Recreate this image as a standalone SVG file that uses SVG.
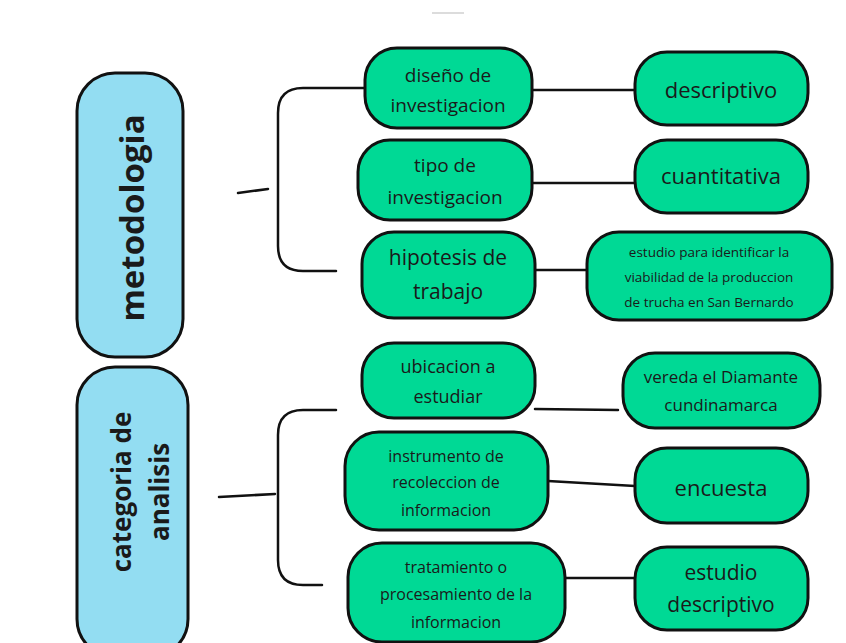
<svg xmlns="http://www.w3.org/2000/svg" width="846" height="643" viewBox="0 0 846 643">
<style>
.g{fill:#00D995;stroke:#111;stroke-width:3}
.b{fill:#93DDF2;stroke:#111;stroke-width:3}
text{font-family:"Open Sans","Noto Sans","Liberation Sans",sans-serif;fill:#1a1a1a;text-anchor:middle}
.h{font-weight:bold;font-size:33px}
.c{fill:none;stroke:#111;stroke-width:2.5;stroke-linecap:round}
</style>
<rect width="846" height="643" fill="#fff"/>
<line x1="432" y1="13" x2="464" y2="13" stroke="#bbb" stroke-width="2" opacity="0.5"/>
<g id="connectors">
<line class="c" x1="238" y1="193" x2="268" y2="189"/>
<path class="c" d="M365,88 H303 Q278,88 278,113 V246 Q278,271 303,271 H336"/>
<line class="c" x1="219" y1="497" x2="275" y2="494"/>
<path class="c" d="M336,410 H303 Q278,410 278,435 V560 Q278,585 303,585 H322"/>
<line class="c" x1="532" y1="90" x2="635" y2="90"/>
<line class="c" x1="520" y1="183" x2="635" y2="183"/>
<line class="c" x1="535" y1="270" x2="587" y2="270"/>
<line class="c" x1="535" y1="409" x2="618" y2="410"/>
<line class="c" x1="548" y1="481" x2="635" y2="486"/>
<line class="c" x1="565" y1="578" x2="635" y2="578"/>
</g>
<g id="metodologia">
<rect class="b" x="77" y="73" width="106" height="284" rx="38"/>
<text class="h" transform="translate(132,218) rotate(-90)" y="12">metodologia</text>
</g>
<g id="categoria">
<rect class="b" x="77" y="367" width="111" height="290" rx="38"/>
<text class="h" style="font-size:26px" transform="translate(141,492) rotate(-90)"><tspan x="0" y="-10">categoria de</tspan><tspan x="0" y="28">analisis</tspan></text>
</g>
<g id="diseno">
<rect class="g" x="365" y="48" width="167" height="80" rx="32"/>
<text style="font-size:19px"><tspan x="448" y="82">diseño de</tspan><tspan x="448" y="112">investigacion</tspan></text>
</g>
<g id="descriptivo">
<rect class="g" x="635" y="52" width="173" height="73" rx="32"/>
<text style="font-size:22px" x="721" y="98">descriptivo</text>
</g>
<g id="tipo">
<rect class="g" x="358" y="140" width="174" height="80" rx="32"/>
<text style="font-size:19px"><tspan x="445" y="172">tipo de</tspan><tspan x="445" y="204">investigacion</tspan></text>
</g>
<g id="cuantitativa">
<rect class="g" x="635" y="140" width="173" height="73" rx="32"/>
<text style="font-size:22px" x="721" y="184">cuantitativa</text>
</g>
<g id="hipotesis">
<rect class="g" x="362" y="232" width="173" height="86" rx="32"/>
<text style="font-size:21px"><tspan x="448" y="265">hipotesis de</tspan><tspan x="448" y="299">trabajo</tspan></text>
</g>
<g id="estudio-para">
<rect class="g" x="587" y="232" width="245" height="88" rx="32"/>
<text style="font-size:13.5px"><tspan x="709" y="257">estudio para identificar la</tspan><tspan x="709" y="282">viabilidad  de la produccion</tspan><tspan x="709" y="307">de trucha en San Bernardo</tspan></text>
</g>
<g id="ubicacion">
<rect class="g" x="362" y="343" width="173" height="75" rx="32"/>
<text style="font-size:18px"><tspan x="448" y="373">ubicacion a</tspan><tspan x="448" y="403">estudiar</tspan></text>
</g>
<g id="vereda">
<rect class="g" x="623" y="353" width="197" height="75" rx="32"/>
<text style="font-size:17px"><tspan x="721" y="383">vereda el Diamante</tspan><tspan x="721" y="411">cundinamarca</tspan></text>
</g>
<g id="instrumento">
<rect class="g" x="345" y="432" width="203" height="98" rx="34"/>
<text style="font-size:16px"><tspan x="446" y="462">instrumento de</tspan><tspan x="446" y="488">recoleccion de</tspan><tspan x="446" y="516">informacion</tspan></text>
</g>
<g id="encuesta">
<rect class="g" x="635" y="448" width="173" height="75" rx="32"/>
<text style="font-size:22px" x="721" y="496">encuesta</text>
</g>
<g id="tratamiento">
<rect class="g" x="348" y="543" width="217" height="99" rx="34"/>
<text style="font-size:16px"><tspan x="456" y="573">tratamiento o</tspan><tspan x="456" y="600">procesamiento de la</tspan><tspan x="456" y="628">informacion</tspan></text>
</g>
<g id="estudio-descriptivo">
<rect class="g" x="635" y="547" width="173" height="83" rx="32"/>
<text style="font-size:21px"><tspan x="721" y="580">estudio</tspan><tspan x="721" y="612">descriptivo</tspan></text>
</g>
</svg>
